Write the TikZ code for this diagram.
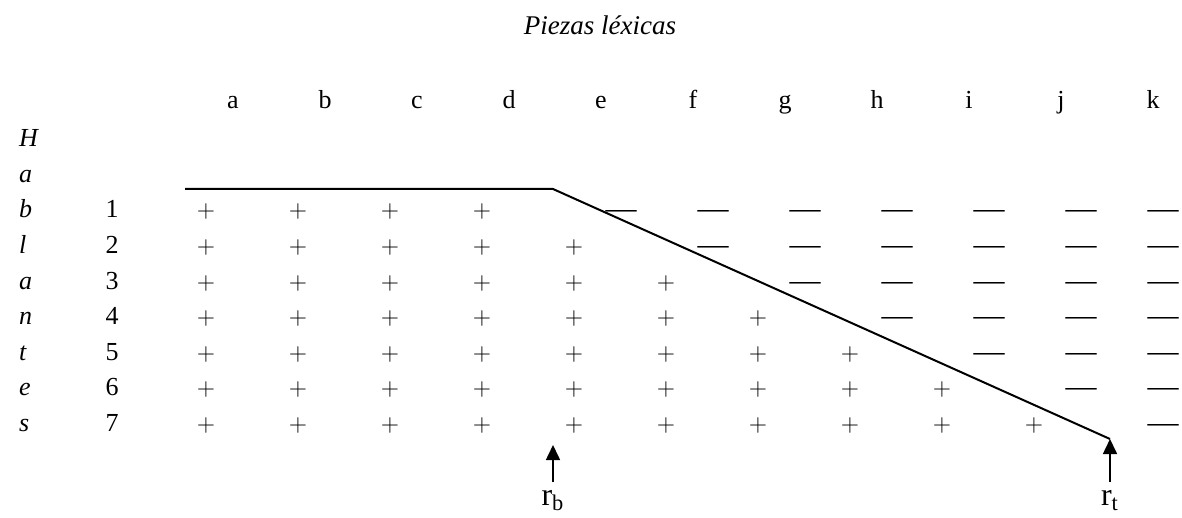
\documentclass[tikz,border=0pt]{standalone}
\usepackage{fontspec}
\setmainfont{Liberation Serif}
\usepackage{tikz}
\usetikzlibrary{arrows.meta}

\begin{document}
\begin{tikzpicture}[x=0.5pt, y=-0.5pt,
    colhead/.style={anchor=base, font=\fontsize{13}{15}\selectfont},
    rowlab/.style={anchor=base west, font=\fontsize{13}{15}\selectfont\itshape},
    rownum/.style={anchor=base, font=\fontsize{13}{15}\selectfont},
    pluscell/.style={anchor=base, font=\fontsize{13}{15}\selectfont},
    dashcell/.style={anchor=base, yshift=-0.5pt, font=\fontsize{15.5}{17}\selectfont},
    bound/.style={line width=1pt},
    arr/.style={-{Triangle[width=7pt,length=7.5pt]}, line width=0.8pt},
    rlab/.style={anchor=base, inner ysep=4pt, font=\fontsize{16}{18}\selectfont}
  ]
  \useasboundingbox (0,0) rectangle (1182,518);
  \clip (0,0) rectangle (1182,518);

  \node[anchor=base, font=\fontsize{13.5}{15}\selectfont\itshape] (title) at (600,35)
        {Piezas léxicas};

  \foreach \l [count=\i] in {a,b,c,d,e,f,g,h,i,j,k}
    \node[colhead] (h\i) at ({233+92*(\i-1)},109) {\l};

  \foreach \l [count=\i] in {H,a,b,l,a,n,t,e,s}
    \node[rowlab] (v\i) at (12,{147+35.5*(\i-1)}) {\l};

  % + / -- matrix
  \foreach \r in {1,...,7}{
    \node[rownum] (n\r) at (112,{218+35.5*(\r-1)}) {\r};
    \foreach \c in {1,...,11}{
      \pgfmathtruncatemacro\lim{\r+3}
      \pgfmathsetmacro\dx{\c==11 ? 1163 : 621+92*(\c-5)}
      \ifnum\c>\lim
        \node[dashcell] (m\r-\c) at (\dx,{218+35.5*(\r-1)}) {---};
      \else
        \node[pluscell] (p\r-\c) at ({206+92*(\c-1)},{218+35.5*(\r-1)}) {$+$};
      \fi
    }
  }

  \coordinate (lstart) at (185,189);
  \coordinate (kink)   at (553,189);
  \coordinate (rtend)  at (1110,439);
  \draw[bound] (lstart) -- (kink) -- (rtend);

  \node[rlab] (rb) at (553,505)  {r\textsubscript{b}};
  \node[rlab] (rt) at (1110,505) {r\textsubscript{t}};
  \coordinate (rbtip) at (553,445);
  \draw[arr] (rb.north) -- (rbtip);
  \draw[arr] (rt.north) -- (rtend);
\end{tikzpicture}
\end{document}
